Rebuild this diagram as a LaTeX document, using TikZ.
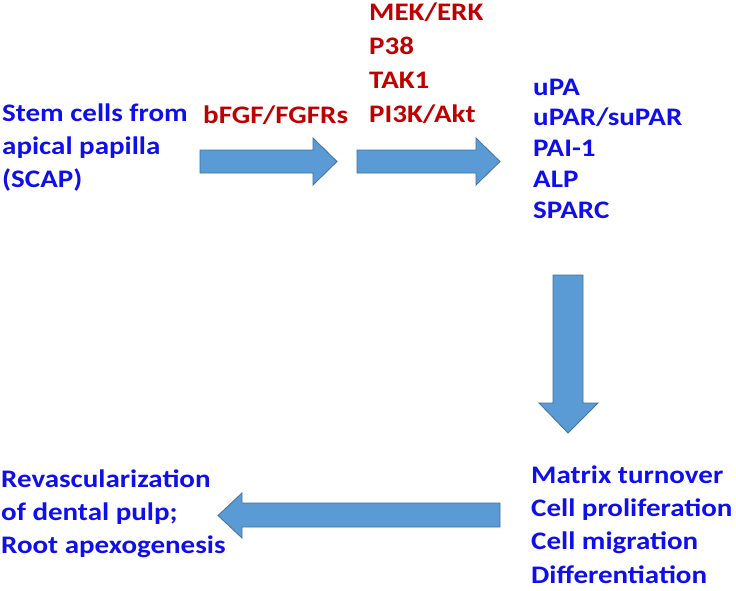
\documentclass[tikz,border=0pt]{standalone}
\usepackage{fontspec}
\setmainfont{Carlito}
\definecolor{arrowfill}{RGB}{91,155,213}
\definecolor{arrowline}{RGB}{65,113,156}
\definecolor{txtblue}{RGB}{15,15,235}
\definecolor{txtred}{RGB}{192,0,0}
\tikzset{
  blockarrow/.style={fill=arrowfill, draw=arrowline, line width=0.8pt, line join=miter},
  lbl/.style={anchor=base west, inner sep=0pt, align=left, font=\bfseries},
  bluetxt/.style={lbl, text=txtblue},
  redtxt/.style={lbl, text=txtred},
  squeeze/.style={yscale=0.87, transform shape}
}
\begin{document}
\begin{tikzpicture}[x=1pt,y=-1pt]
\useasboundingbox[fill=white] (0,0) rectangle (736,590);

% block arrows
\draw[blockarrow] (200,150) -- (313,150) -- (313,138) -- (337,161.5) -- (313,185) -- (313,173) -- (200,173) -- cycle;
\draw[blockarrow] (357,150) -- (476,150) -- (476,138) -- (500,161.5) -- (476,185) -- (476,173) -- (357,173) -- cycle;
\draw[blockarrow] (553,275) -- (583,275) -- (583,403) -- (598,403) -- (568,433) -- (539,403) -- (553,403) -- cycle;
\draw[blockarrow] (500,503) -- (242,503) -- (242,493) -- (218,515.5) -- (242,538) -- (242,527) -- (500,527) -- cycle;

% texts (anchor = baseline of last line)
\begin{scope}[shift={(2,187)}, squeeze]
\node[bluetxt, font=\fontsize{29pt}{37.4pt}\selectfont\bfseries] (scap) at (0,0) {Stem cells from\\apical papilla\\(SCAP)};
\end{scope}
\begin{scope}[shift={(203,123)}, squeeze]
\node[redtxt, font=\fontsize{29pt}{37pt}\selectfont\bfseries] (fgf) at (0,0) {bFGF/FGFRs};
\end{scope}
\begin{scope}[shift={(369,122)}, squeeze]
\node[redtxt, font=\fontsize{29pt}{38.7pt}\selectfont\bfseries] (path) at (0,0) {MEK/ERK\\P38\\TAK1\\PI3K/Akt};
\end{scope}
\begin{scope}[shift={(533,218)}, squeeze]
\node[bluetxt, font=\fontsize{29pt}{35.3pt}\selectfont\bfseries] (genes) at (0,0) {uPA\\uPAR/suPAR\\PAI-1\\ALP\\SPARC};
\end{scope}
\begin{scope}[shift={(531,583)}, squeeze]
\node[bluetxt, font=\fontsize{29pt}{38.3pt}\selectfont\bfseries] (effects) at (0,0) {Matrix turnover\\Cell proliferation\\Cell migration\\Differentiation};
\end{scope}
\begin{scope}[shift={(1,553)}, squeeze]
\node[bluetxt, font=\fontsize{29pt}{37.9pt}\selectfont\bfseries] (outcome) at (0,0) {Revascularization\\of dental pulp;\\Root apexogenesis};
\end{scope}
\end{tikzpicture}
\end{document}
